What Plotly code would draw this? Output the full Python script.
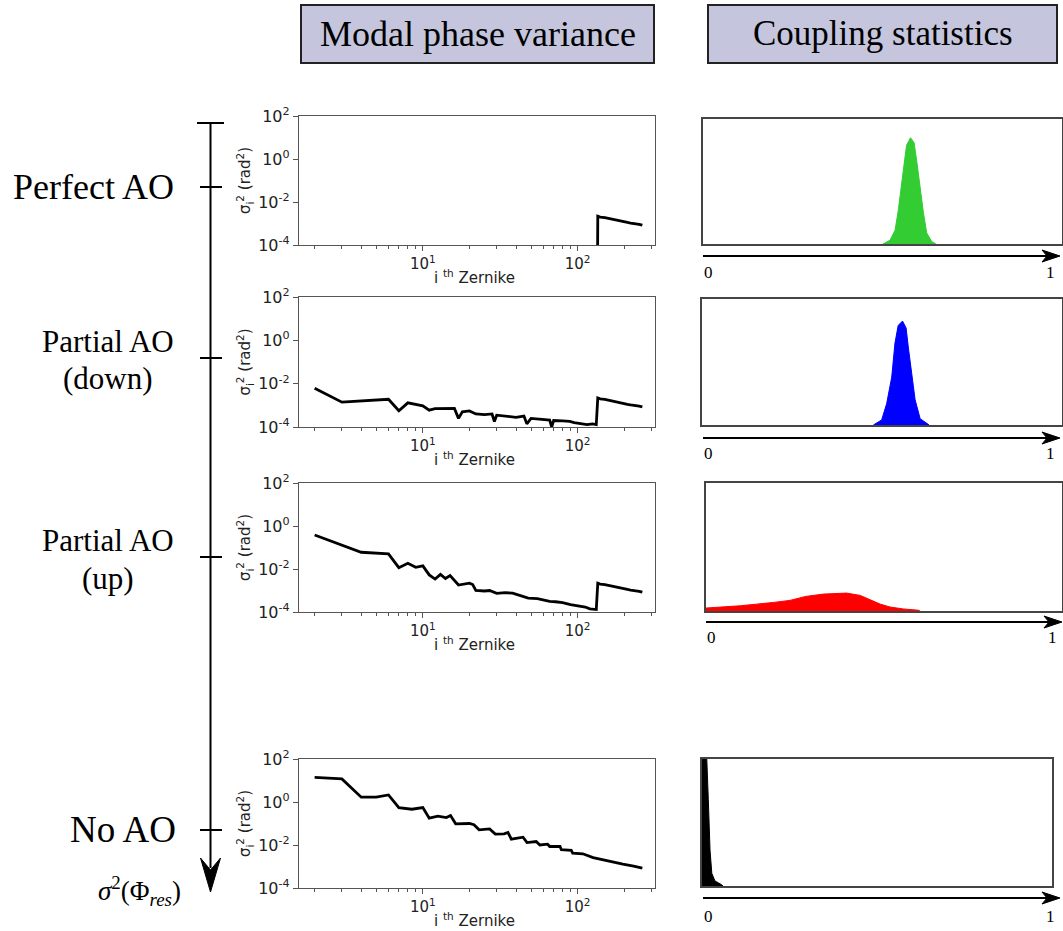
import plotly.graph_objects as go

W, H = 1063, 931

# ---------------- data ----------------
# shared high-order tail (modes beyond the corrected ones)
tail_modes = [135, 140, 150, 160, 170, 180, 190, 200, 210, 220, 235, 250, 262]
tail_var = [2.2e-3, 2.0e-3, 1.9e-3, 1.7e-3, 1.5e-3, 1.45e-3, 1.3e-3, 1.15e-3, 1.12e-3,
            1.05e-3, 1.0e-3, 9.2e-4, 8.5e-4]

# Perfect AO: corrected modes are below the axis range
perfect_modes = [2, 134] + tail_modes
perfect_var = [1e-7, 1e-7] + tail_var

# Partial AO (down)
down_modes = [2, 3, 6, 7, 8, 10, 11, 12, 16, 17, 18, 20, 22, 25, 28, 29, 30, 35, 40,
              45, 47, 50, 55, 60, 66, 68, 70, 80, 89, 95, 103, 115, 125, 132]
down_var = [6.1e-3, 1.4e-3, 1.9e-3, 5.6e-4, 1.3e-3, 9.5e-4, 6.0e-4, 7.0e-4, 7.2e-4,
            2.5e-4, 5.0e-4, 5.5e-4, 4.0e-4, 3.7e-4, 4.0e-4, 1.8e-4, 3.5e-4, 3.2e-4,
            2.8e-4, 3.2e-4, 1.4e-4, 2.5e-4, 2.3e-4, 2.2e-4, 2.1e-4, 1.0e-4, 2.0e-4,
            1.9e-4, 1.8e-4, 1.6e-4, 1.5e-4, 1.3e-4, 1.4e-4, 1.3e-4]
down_modes = down_modes + tail_modes
down_var = down_var + tail_var

# Partial AO (up)
up_modes = [2, 4, 6, 7, 8, 9, 10, 11, 12, 13, 14, 15, 17, 20, 21, 22, 25, 27, 30, 34,
            38, 43, 48, 55, 66, 72, 80, 90, 103, 112, 120, 128, 132] + tail_modes
up_var = [0.38, 0.06, 0.05, 0.0115, 0.0185, 0.012, 0.014, 5.3e-3, 3.4e-3, 5.6e-3,
          3.6e-3, 5.0e-3, 1.8e-3, 2.2e-3, 1.9e-3, 1.0e-3, 9.5e-4, 1.0e-3, 7.4e-4,
          8.0e-4, 7.5e-4, 5.5e-4, 4.4e-4, 4.2e-4, 3.1e-4, 3.0e-4, 2.7e-4, 2.2e-4,
          1.8e-4, 1.7e-4, 1.4e-4, 1.3e-4, 1.3e-4] + tail_var

# No AO
no_modes = [2, 3, 4, 5, 6, 7, 8.5, 10, 11, 12.5, 14.2, 15.1, 16.3, 20, 21.4, 23.1, 27,
            29.4, 33.5, 35.5, 37.3, 44.4, 47.1, 54, 57, 64, 66, 77, 78.5, 91, 93, 108,
            126, 161, 196, 230, 262]
no_var = [14.1, 11.8, 1.67, 1.7, 2.14, 0.55, 0.46, 0.55, 0.177, 0.22, 0.19, 0.234,
          0.097, 0.10, 0.088, 0.051, 0.056, 0.032, 0.033, 0.038, 0.0188, 0.023, 0.013,
          0.0145, 0.010, 0.011, 0.0085, 0.0085, 0.006, 0.0056, 0.0042, 0.0039, 0.0026,
          0.0017, 0.0013, 0.00105, 0.00085]

# Coupling statistics (normalised histograms, x in [0, 1])
green_x = [0.501, 0.521, 0.535, 0.544, 0.558, 0.567, 0.578, 0.588, 0.595, 0.604,
           0.614, 0.623, 0.637, 0.649]
green_y = [0.0, 0.03, 0.11, 0.27, 0.59, 0.79, 0.85, 0.81, 0.67, 0.46, 0.25, 0.09, 0.02, 0.0]

blue_x = [0.476, 0.499, 0.513, 0.527, 0.536, 0.545, 0.557, 0.567, 0.573, 0.582,
          0.592, 0.606, 0.631]
blue_y = [0.0, 0.04, 0.17, 0.38, 0.65, 0.79, 0.825, 0.77, 0.62, 0.41, 0.2, 0.05, 0.0]

red_x = [0.0, 0.097, 0.19, 0.236, 0.28, 0.33, 0.395, 0.433, 0.461, 0.489, 0.517,
         0.554, 0.60]
red_y = [0.023, 0.041, 0.067, 0.083, 0.114, 0.132, 0.14, 0.122, 0.088, 0.054, 0.031,
         0.016, 0.005]

black_x = [0.0, 0.013, 0.018, 0.023, 0.028, 0.037, 0.056, 0.06]
black_y = [1.05, 1.05, 0.68, 0.28, 0.10, 0.04, 0.01, 0.0]

y_tickvals = [1e-4, 1e-2, 1, 100]
y_ticktext = ["10<sup>-4</sup>", "10<sup>-2</sup>", "10<sup>0</sup>", "10<sup>2</sup>"]
x_tickvals = [10, 100]
x_ticktext = ["10<sup>1</sup>", "10<sup>2</sup>"]
x_minor = [2, 3, 4, 5, 6, 7, 8, 9, 20, 30, 40, 50, 60, 70, 80, 90, 200, 300]
x_title = "i <sup>th</sup> Zernike"
y_title = "σ<sub>i</sub><sup>2</sup> (rad<sup>2</sup>)"

# ---------------- layout helpers ----------------
def px_x(a, b):
    return [a / W, b / W]

def px_y(top, bot):
    return [1 - bot / H, 1 - top / H]

def X(v):
    return v / W

def Y(v):
    return 1 - v / H

SANS = "DejaVu Sans, Arial, sans-serif"
SERIF = "Liberation Serif, Times New Roman, serif"

left_boxes = [(116, 245), (297, 427), (483, 612), (759, 888)]
right_boxes = [(703, 1062, 119, 244), (702, 1062, 299, 425), (706, 1062, 483, 611),
               (702, 1052, 759, 886)]

fig = go.Figure()
layout = dict(width=W, height=H, margin=dict(l=0, r=0, t=0, b=0, pad=0),
              plot_bgcolor="white", paper_bgcolor="white", showlegend=False)

series = [(perfect_modes, perfect_var), (down_modes, down_var),
          (up_modes, up_var), (no_modes, no_var)]
hists = [(green_x, green_y, "#33cc33"), (blue_x, blue_y, "#0000ff"),
         (red_x, red_y, "#ff0000"), (black_x, black_y, "#000000")]

shapes = []
annotations = []

for i in range(4):
    # left: modal variance
    n = 2 * i + 1
    xa = "x" if n == 1 else f"x{n}"
    ya = "y" if n == 1 else f"y{n}"
    fig.add_trace(go.Scatter(x=series[i][0], y=series[i][1], mode="lines",
                             line=dict(color="black", width=2.8),
                             xaxis=xa, yaxis=ya, hoverinfo="skip"))
    top, bot = left_boxes[i]
    layout["xaxis" if n == 1 else f"xaxis{n}"] = dict(
        domain=px_x(299, 655), anchor=ya, type="log", range=[0.2, 2.5],
        automargin=False,
        showgrid=False, zeroline=False, showline=True, mirror=True,
        linecolor="#555", linewidth=1.3, ticks="outside", ticklen=5, tickwidth=1,
        tickcolor="#555", tickvals=x_tickvals, ticktext=x_ticktext,
        tickfont=dict(family=SANS, size=15, color="#222"),
        minor=dict(ticks="outside", ticklen=3, tickvals=x_minor, tickcolor="#555"),
    )
    layout["yaxis" if n == 1 else f"yaxis{n}"] = dict(
        domain=px_y(top, bot), anchor=xa, type="log", range=[-4, 2],
        automargin=False,
        showgrid=False, zeroline=False, showline=True, mirror=True,
        linecolor="#555", linewidth=1.3, ticks="outside", ticklen=5, tickcolor="#555",
        tickvals=y_tickvals, ticktext=y_ticktext,
        tickfont=dict(family=SANS, size=16, color="#222"),
        title=dict(text=y_title, standoff=3,
                   font=dict(family=SANS, size=15, color="#222")),
    )
    annotations.append(dict(xref="paper", yref="paper", x=X(474), y=Y(bot + 32),
                            text=x_title, showarrow=False, xanchor="center",
                            yanchor="middle",
                            font=dict(family=SANS, size=15, color="#222")))
    # right: coupling statistics
    m = 2 * i + 2
    xb, yb = f"x{m}", f"y{m}"
    hx, hy, col = hists[i]
    fig.add_trace(go.Scatter(x=hx, y=hy, mode="lines", fill="tozeroy",
                             fillcolor=col, line=dict(color=col, width=1),
                             xaxis=xb, yaxis=yb, hoverinfo="skip"))
    x0, x1, t, b = right_boxes[i]
    layout[f"xaxis{m}"] = dict(domain=px_x(x0, x1), anchor=yb, range=[0, 1],
                               automargin=False,
                               showgrid=False, zeroline=False, showticklabels=False,
                               showline=True, mirror=True, linecolor="#444",
                               linewidth=1.5, ticks="")
    layout[f"yaxis{m}"] = dict(domain=px_y(t, b), anchor=xb, range=[0, 1],
                               automargin=False,
                               showgrid=False, zeroline=False, showticklabels=False,
                               showline=True, mirror=True, linecolor="#444",
                               linewidth=1.5, ticks="")

# header boxes
for (a, b, text, fs) in [(301, 654, "Modal phase variance", 36),
                         (708, 1057, "Coupling statistics", 35)]:
    shapes.append(dict(type="rect", xref="paper", yref="paper", x0=X(a), x1=X(b),
                       y0=Y(63), y1=Y(5), fillcolor="rgb(197,198,221)",
                       line=dict(color="#222", width=2), layer="below"))
    annotations.append(dict(xref="paper", yref="paper", x=X((a + b) / 2), y=Y(34),
                            text=text, showarrow=False, xanchor="center", yanchor="middle",
                            font=dict(family=SERIF, size=fs, color="black")))

# left vertical arrow
AX = 210.5
shapes.append(dict(type="line", xref="paper", yref="paper", x0=X(AX), x1=X(AX),
                   y0=Y(123), y1=Y(868), line=dict(color="black", width=2)))
shapes.append(dict(type="line", xref="paper", yref="paper", x0=X(197), x1=X(224),
                   y0=Y(123), y1=Y(123), line=dict(color="black", width=2)))
for ty in [187, 358, 557, 830]:
    shapes.append(dict(type="line", xref="paper", yref="paper", x0=X(200), x1=X(222),
                       y0=Y(ty), y1=Y(ty), line=dict(color="black", width=2)))
shapes.append(dict(type="path", xref="paper", yref="paper",
                   path=f"M {X(AX)},{Y(892)} L {X(200.5)},{Y(858)} L {X(AX)},{Y(870)} "
                        f"L {X(220.5)},{Y(858)} Z",
                   fillcolor="black", line=dict(color="black", width=1)))

# row labels: (text, x, anchor, y, size)
label_specs = [("Perfect AO", 176, "right", 187, 36),
               ("Partial AO", 108, "center", 341, 31),
               ("(down)", 108, "center", 378, 31),
               ("Partial AO", 108, "center", 540, 31),
               ("(up)", 108, "center", 578, 31),
               ("No AO", 178, "right", 829, 37)]
for text, lx, anc, cy, size in label_specs:
    annotations.append(dict(xref="paper", yref="paper", x=X(lx), y=Y(cy),
                            text=text, showarrow=False, xanchor=anc, yanchor="middle",
                            font=dict(family=SERIF, size=size, color="black")))
annotations.append(dict(xref="paper", yref="paper", x=X(139), y=Y(891),
                        text="<i>σ</i><sup>2</sup>(Φ<sub><i>res</i></sub>)", showarrow=False,
                        xanchor="center", yanchor="middle",
                        font=dict(family=SERIF, size=27, color="black")))

# right horizontal arrows and 0/1 labels
arrow_specs = [(703, 1060, 256, 273), (703, 1060, 438, 453), (706, 1062, 622, 637),
               (703, 1060, 898, 916)]
for a, b, ay, ly in arrow_specs:
    shapes.append(dict(type="line", xref="paper", yref="paper", x0=X(a), x1=X(b - 8),
                       y0=Y(ay), y1=Y(ay), line=dict(color="black", width=2)))
    shapes.append(dict(type="path", xref="paper", yref="paper",
                       path=f"M {X(b)},{Y(ay)} L {X(b - 18)},{Y(ay - 6)} L {X(b - 13)},{Y(ay)} "
                            f"L {X(b - 18)},{Y(ay + 6)} Z",
                       fillcolor="black", line=dict(color="black", width=1)))
    annotations.append(dict(xref="paper", yref="paper", x=X(a + 5), y=Y(ly), text="0",
                            showarrow=False, xanchor="center", yanchor="middle",
                            font=dict(family=SERIF, size=17, color="black")))
    annotations.append(dict(xref="paper", yref="paper", x=X(b - 10), y=Y(ly), text="1",
                            showarrow=False, xanchor="center", yanchor="middle",
                            font=dict(family=SERIF, size=17, color="black")))

layout["shapes"] = shapes
layout["annotations"] = annotations
fig.update_layout(**layout)

fig.write_html("out.html", config={"displayModeBar": False},
               post_script="document.body.style.margin='0';document.body.style.overflow='hidden';")
